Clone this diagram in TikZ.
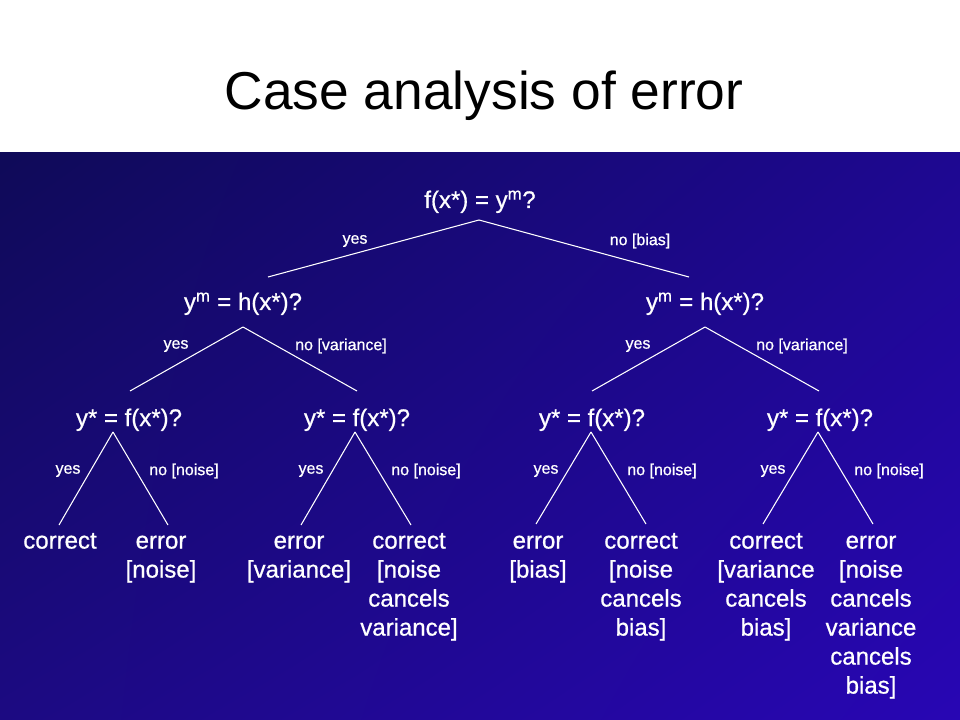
\documentclass[tikz,border=0pt]{standalone}
\usepackage{fontspec}
\setmainfont{Liberation Sans}
\newfontfamily\treefont{Liberation Sans}[FakeBold=0.7]
\usepackage{tikz}
\usetikzlibrary{shadings}
\definecolor{bgTL}{RGB}{15,10,88}
\definecolor{bgTR}{RGB}{30,8,145}
\definecolor{bgBL}{RGB}{28,10,130}
\definecolor{bgBR}{RGB}{40,6,180}

\begin{document}
\begin{tikzpicture}[x=0.75pt,y=-0.75pt,
   question/.style={text=white,anchor=base,font=\treefont\fontsize{18}{21.75}\selectfont},
   outcome/.style={text=white,anchor=north,align=center,inner sep=0pt,font=\treefont\fontsize{18}{21.75}\selectfont},
   answer/.style={text=white,font=\treefont\fontsize{12}{14}\selectfont},
   branch/.style={draw=white,line width=0.8pt}]
   \useasboundingbox (0,0) rectangle (960,720);
   \fill[white] (0,0) rectangle (960,153);
   \shade[upper left=bgTL,upper right=bgTR,lower left=bgBL,lower right=bgBR]
      (0,153) rectangle (960,720);
   \node[anchor=base,font=\fontsize{40}{48}\selectfont] (title) at (484,110) {Case analysis of error};
   % questions
   \node[question] (q0) at (480,208) {f(x*) = y\textsuperscript{m}?};
   \node[question] (q1) at (243,310) {y\textsuperscript{m} = h(x*)?};
   \node[question] (q2) at (705,310) {y\textsuperscript{m} = h(x*)?};
   \node[question] (q3) at (129,426) {y* = f(x*)?};
   \node[question] (q4) at (357,426) {y* = f(x*)?};
   \node[question] (q5) at (592,426) {y* = f(x*)?};
   \node[question] (q6) at (820,426) {y* = f(x*)?};
   % outcomes (first baseline at 548)
   \node[outcome] (o1) at (60,528)  {\strut correct};
   \node[outcome] (o2) at (161,528) {\strut error\\{[}noise]};
   \node[outcome] (o3) at (299,528) {\strut error\\{[}variance]};
   \node[outcome] (o4) at (409,528) {\strut correct\\{[}noise\\cancels\\variance]};
   \node[outcome] (o5) at (538,528) {\strut error\\{[}bias]};
   \node[outcome] (o6) at (641,528) {\strut correct\\{[}noise\\cancels\\bias]};
   \node[outcome] (o7) at (766,528) {\strut correct\\{[}variance\\cancels\\bias]};
   \node[outcome] (o8) at (871,528) {\strut error\\{[}noise\\cancels\\variance\\cancels\\bias]};
   % branch ends
   \coordinate (t0) at (479,220);
   \coordinate (t1) at (243,327);
   \coordinate (t2) at (705,327);
   \coordinate (t3) at (113,432);
   \coordinate (t4) at (355,432);
   \coordinate (t5) at (591,432);
   \coordinate (t6) at (818,432);
   \coordinate (b1) at (268,277);
   \coordinate (b2) at (689,277);
   \coordinate (b3) at (130,391);
   \coordinate (b4) at (357,391);
   \coordinate (b5) at (592,391);
   \coordinate (b6) at (819,391);
   \coordinate (b7) at (59,525);
   \coordinate (b8) at (168,525);
   \coordinate (b9) at (301,525);
   \coordinate (b10) at (411,525);
   \coordinate (b11) at (536,524);
   \coordinate (b12) at (646,524);
   \coordinate (b13) at (763,524);
   \coordinate (b14) at (873,524);
   \path[branch]
    (t0) edge (b1) edge (b2)
    (t1) edge (b3) edge (b4)
    (t2) edge (b5) edge (b6)
    (t3) edge (b7) edge (b8)
    (t4) edge (b9) edge (b10)
    (t5) edge (b11) edge (b12)
    (t6) edge (b13) edge (b14)
    ;
   % answers
   \node[answer] (y0) at (355,241) {yes};
   \node[answer] (n0) at (640,241) {no [bias]};
   \node[answer] (y1) at (176,346) {yes};
   \node[answer] (n1) at (341,346) {no [variance]};
   \node[answer] (y2) at (638,346) {yes};
   \node[answer] (n2) at (802,346) {no [variance]};
   \node[answer] (y3) at (68,471)  {yes};
   \node[answer] (n3) at (184,471) {no [noise]};
   \node[answer] (y4) at (311,471) {yes};
   \node[answer] (n4) at (426,471) {no [noise]};
   \node[answer] (y5) at (546,471) {yes};
   \node[answer] (n5) at (662,471) {no [noise]};
   \node[answer] (y6) at (773,471) {yes};
   \node[answer] (n6) at (889,471) {no [noise]};
\end{tikzpicture}
\end{document}
